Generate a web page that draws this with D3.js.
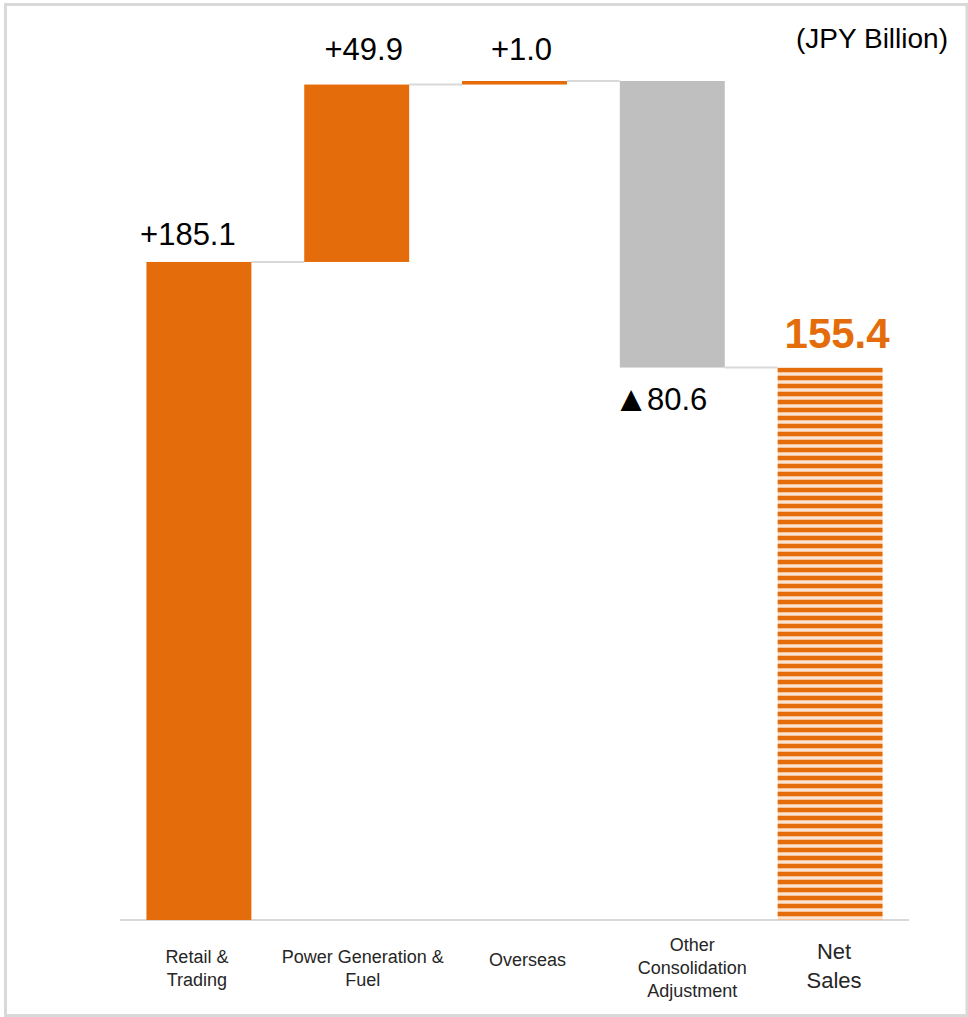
<!DOCTYPE html>
<html>
<head>
<meta charset="utf-8">
<script src="https://cdn.jsdelivr.net/npm/d3@7"></script>
<style>
  html, body { margin: 0; padding: 0; background: #fff; }
  svg { display: block; }
  text { font-family: "Liberation Sans", Arial, sans-serif; }
</style>
</head>
<body>
<svg id="chart" width="968" height="1017"></svg>
<script>
// Net sales bridge by segment (JPY Billion)
const categoryLines = [
  ["Retail &", "Trading"],
  ["Power Generation &", "Fuel"],
  ["Overseas"],
  ["Other", "Consolidation", "Adjustment"],
  ["Net", "Sales"]
];
const deltas = [185.1, 49.9, 1.0, -80.6];
const totalValue = 155.4;
const valueLabels = ["+185.1", "+49.9", "+1.0", "\u25B280.6", "155.4"];
const unitLabel = "(JPY Billion)";

const ORANGE = "#E46C0A";
const GRAY = "#BFBFBF";
const LINE = "#D9D9D9";

// small horizontal / vertical nudges for the text boxes
const valueNudgeX = [-11, 7, 7, -12, 7];
const valueNudgeY = [3, -5, -1, 0, 0];
const catNudgeX = [-2, 6, 13, 20, 4];
const catCenterY = [968, 968, 960, 968, 966];

const svg = d3.select("#chart");

// outer frame
svg.append("rect")
  .attr("x", 5.5).attr("y", 4.5)
  .attr("width", 961.5).attr("height", 1011)
  .attr("fill", "none").attr("stroke", LINE).attr("stroke-width", 3);

// stripe pattern for the total bar
const defs = svg.append("defs");
const pat = defs.append("pattern")
  .attr("id", "stripes")
  .attr("patternUnits", "userSpaceOnUse")
  .attr("width", 8).attr("height", 8);
pat.append("rect").attr("width", 8).attr("height", 8).attr("fill", "#FDE4D0");
pat.append("rect").attr("y", 4).attr("width", 8).attr("height", 1).attr("fill", "#F6C29A");
pat.append("rect").attr("y", 7).attr("width", 8).attr("height", 1).attr("fill", "#F6C29A");
pat.append("rect").attr("y", 0).attr("width", 8).attr("height", 4).attr("fill", ORANGE);

// build waterfall segments
const segs = [];
let run = 0;
deltas.forEach((d, i) => {
  const start = run;
  run += d;
  segs.push({ i, lo: Math.min(start, run), hi: Math.max(start, run), start, end: run, value: d, total: false });
});
segs.push({ i: deltas.length, lo: 0, hi: totalValue, start: 0, end: totalValue, value: totalValue, total: true });

const baseY = 920;
const x = d3.scaleBand()
  .domain(d3.range(categoryLines.length))
  .range([120, 909])
  .paddingInner(0)
  .paddingOuter(0);
const barW = x.bandwidth() * 0.665;
const cx = i => x(i) + x.bandwidth() / 2;

const peak = d3.max(segs, s => s.hi);
const y = d3.scaleLinear().domain([0, peak]).range([baseY, 81]);

// axis baseline
svg.append("line")
  .attr("x1", 120).attr("x2", 909)
  .attr("y1", baseY).attr("y2", baseY)
  .attr("stroke", LINE).attr("stroke-width", 2);

// connectors between consecutive bars
for (let k = 0; k < segs.length - 1; k++) {
  const lvl = segs[k].end;
  svg.append("line")
    .attr("x1", cx(k) + barW / 2).attr("x2", cx(k + 1) - barW / 2)
    .attr("y1", y(lvl)).attr("y2", y(lvl))
    .attr("stroke", LINE).attr("stroke-width", 2);
}

// bars
svg.selectAll("rect.bar")
  .data(segs)
  .join("rect")
  .attr("class", "bar")
  .attr("x", s => cx(s.i) - barW / 2)
  .attr("width", barW)
  .attr("y", s => y(s.hi))
  .attr("height", s => y(s.lo) - y(s.hi))
  .attr("fill", s => s.total ? "url(#stripes)" : (s.value < 0 ? GRAY : ORANGE));

// value labels (the negative marker triangle is drawn a bit larger)
svg.selectAll("text.val")
  .data(segs)
  .join("text")
  .attr("class", "val")
  .attr("x", s => cx(s.i) + valueNudgeX[s.i])
  .attr("y", s => (s.value < 0 ? y(s.lo) + 42 : y(s.hi) - 20) + valueNudgeY[s.i])
  .attr("text-anchor", "middle")
  .attr("font-size", s => s.total ? 42 : 31)
  .attr("font-weight", s => s.total ? "bold" : "normal")
  .attr("fill", s => s.total ? ORANGE : "#000")
  .each(function(s) {
    const label = valueLabels[s.i];
    const t = d3.select(this);
    if (label.startsWith("\u25B2")) {
      t.append("tspan").attr("font-size", 36).attr("dy", 1).text("\u25B2");
      t.append("tspan").attr("dy", -1).attr("dx", -2).text(label.slice(1));
    } else {
      t.text(label);
    }
  });

// category labels
const catG = svg.selectAll("g.cat")
  .data(categoryLines)
  .join("g")
  .attr("class", "cat");
catG.each(function(lines, i) {
  const isTotal = i === categoryLines.length - 1;
  const fs = isTotal ? 22 : 18;
  const lh = isTotal ? 29 : 23;
  const t = d3.select(this).append("text")
    .attr("text-anchor", "middle")
    .attr("font-size", fs)
    .attr("fill", "#262626");
  const first = catCenterY[i] - (lines.length - 1) * lh / 2 + fs * 0.35;
  lines.forEach((ln, j) => {
    t.append("tspan")
      .attr("x", cx(i) + catNudgeX[i])
      .attr("y", first + j * lh)
      .text(ln);
  });
});

// unit label
svg.append("text")
  .attr("x", 948).attr("y", 48)
  .attr("text-anchor", "end")
  .attr("font-size", 28)
  .attr("fill", "#000")
  .text(unitLabel);
</script>
</body>
</html>
